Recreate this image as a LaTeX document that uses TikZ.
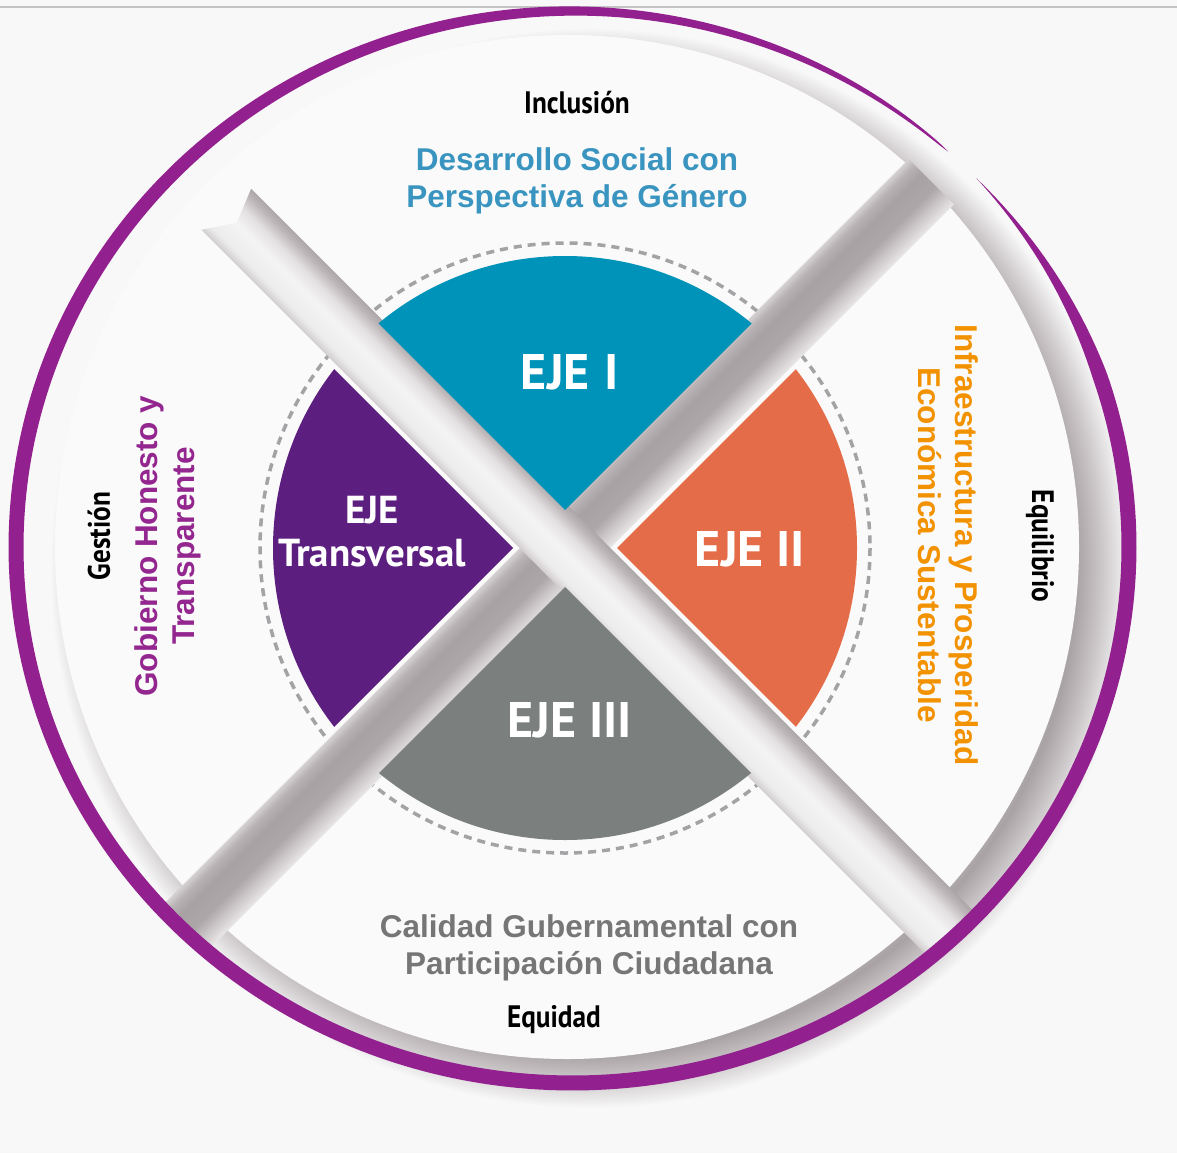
\documentclass[tikz,border=0pt]{standalone}
\usepackage{fontspec}
\setmainfont{Liberation Sans}
\newfontfamily\condfont[FakeStretch=0.88]{PT Sans}
\newfontfamily\ejefont{PT Sans}
\usetikzlibrary{calc}
\definecolor{bgc}{HTML}{F8F8F8}
\definecolor{whc}{HTML}{FAFAFA}
\definecolor{linec}{HTML}{C4C4C4}
\definecolor{ringc}{HTML}{93208F}
\definecolor{tealc}{HTML}{0093B9}
\definecolor{orangec}{HTML}{E56C48}
\definecolor{grayc}{HTML}{7B807F}
\definecolor{purplec}{HTML}{5C1F7F}
\definecolor{bluetxt}{HTML}{3A94C0}
\definecolor{orangetxt}{HTML}{F39200}
\definecolor{graytxt}{HTML}{767676}
\definecolor{purpletxt}{HTML}{93278F}
\definecolor{dashc}{HTML}{A3A3A6}
\definecolor{shd}{HTML}{A9A2A5}
\definecolor{shdl}{HTML}{C9C4C6}
\definecolor{bAa}{HTML}{D3CFD1}
\definecolor{bAb}{HTML}{EDECED}
\definecolor{bAc}{HTML}{F5F4F5}
\definecolor{bAd}{HTML}{E2DFE0}
\definecolor{bAe}{HTML}{BEB8BA}
\definecolor{bAf}{HTML}{ACA6A8}
\definecolor{bBa}{HTML}{E9E7E8}
\definecolor{bBb}{HTML}{CFCACC}
\definecolor{bBc}{HTML}{ADA6A9}
\definecolor{bBd}{HTML}{A9A2A5}
\definecolor{bBe}{HTML}{B9B3B6}
\definecolor{bBf}{HTML}{D5D1D3}
\pgfdeclareradialshading{shadowdisk}{\pgfpoint{0bp}{0bp}}{color(0bp)=(bgc); color(19bp)=(bgc); color(22.5bp)=(shd); color(23.6bp)=(shdl); color(25bp)=(bgc); color(50bp)=(bgc)}
\pgfdeclareverticalshading{bandA}{100bp}{color(0bp)=(bAa); color(25bp)=(bAa); color(32bp)=(bAb); color(48bp)=(bAc); color(60bp)=(bAd); color(69bp)=(bAe); color(75bp)=(bAf); color(100bp)=(bAf)}
\pgfdeclareverticalshading{bandB}{100bp}{color(0bp)=(bBa); color(25bp)=(bBa); color(34bp)=(bBb); color(45bp)=(bBc); color(60bp)=(bBd); color(69bp)=(bBe); color(75bp)=(bBf); color(100bp)=(bBf)}
\tikzset{
  axislabel/.style={font=\fontsize{31.5}{37}\selectfont\bfseries, align=center, inner sep=0pt},
  keyword/.style={font=\condfont\fontsize{31}{37}\selectfont\bfseries, text=black, inner sep=0pt},
  ejelabel/.style={font=\ejefont\fontsize{50}{50}\selectfont\bfseries, text=white, inner sep=0pt},
}
\begin{document}
\begin{tikzpicture}[x=1pt,y=-1pt,
  declare function={rw(\t)=(\t<200) ? 15*min(1,(\t+43.5)/25) : 15*sqrt(max(0,(312.5-\t)/112.5));}]
\useasboundingbox (0,0) rectangle (1177,1153);
\fill[bgc] (0,0) rectangle (1177,1153);
\draw[linec, line width=1.2pt] (0,7) -- (1177,7);
% shadow and white disk
\shade[shading=shadowdisk] (590,568) circle (540);
\fill[whc] (567,547) circle (512);
% dashed circle
\draw[dashc, line width=3.5pt, dash pattern=on 8pt off 6pt] (565,548) circle (305);
% bands
\begin{scope}
  \clip (572.5,547) ellipse (549 and 529);
  \begin{scope}[transform canvas={shift={(565,548)}, rotate=45}]
    \shade[shading=bandB] (-600,-32) rectangle (518,32);
  \end{scope}
  \begin{scope}[transform canvas={shift={(565,548)}, rotate=-45}]
    \shade[shading=bandA] (-476,-32) -- (600,-32) -- (600,32) -- (-482,32) -- (-462,2) -- cycle;
  \end{scope}
\end{scope}
% coloured sectors
\begin{scope}
  \clip (565,548) circle (292);
  \fill[tealc] (565,510) -- ++(-400,-400) -- ++(800,0) -- cycle;
  \fill[purplec] (513,548) -- ++(-400,-400) -- ++(0,800) -- cycle;
  \fill[orangec] (617,548) -- ++(400,-400) -- ++(0,800) -- cycle;
  \fill[grayc] (565,587) -- ++(-400,400) -- ++(800,0) -- cycle;
\end{scope}
% ring
\fill[ringc] plot[domain=-43.5:312.5, samples=360, variable=\t] ({572.5+(556.5+0.5*rw(\t))*cos(\t)}, {547+(536+0.5*rw(\t))*sin(\t)})
  -- plot[domain=312.5:-43.5, samples=360, variable=\t] ({572.5+(556.5-0.5*rw(\t))*cos(\t)}, {547+(536-0.5*rw(\t))*sin(\t)}) -- cycle;
% texts
\node[keyword] (incl) at (577,103) {Inclusión};
\node[axislabel, text=bluetxt] (eje1txt) at (577,181) {Desarrollo Social con\\Perspectiva de Género};
\node[axislabel, text=graytxt] (eje3txt) at (589,948) {Calidad Gubernamental con\\Participación Ciudadana};
\node[keyword] (equid) at (554,1020) {Equidad};
\node[keyword, rotate=90] (gest) at (99,536) {Gestión};
\node[axislabel, text=purpletxt, rotate=90] (transtxt) at (168,546) {Gobierno Honesto y\\Transparente};
\node[axislabel, text=orangetxt, rotate=-90] (eje2txt) at (948,545) {Infraestructura y Prosperidad\\Económica Sustentable};
\node[keyword, rotate=-90] (equil) at (1040,546) {Equilibrio};
\node[ejelabel] (e1) at (570,372) {EJE\hspace{0.3em}I};
\node[ejelabel] (e2) at (750,549) {EJE II};
\node[ejelabel] (e3) at (570,720) {EJE III};
\node[ejelabel, font=\ejefont\fontsize{39}{43}\selectfont\bfseries, align=center] (et) at (372,532) {EJE\\Transversal};
\end{tikzpicture}
\end{document}
